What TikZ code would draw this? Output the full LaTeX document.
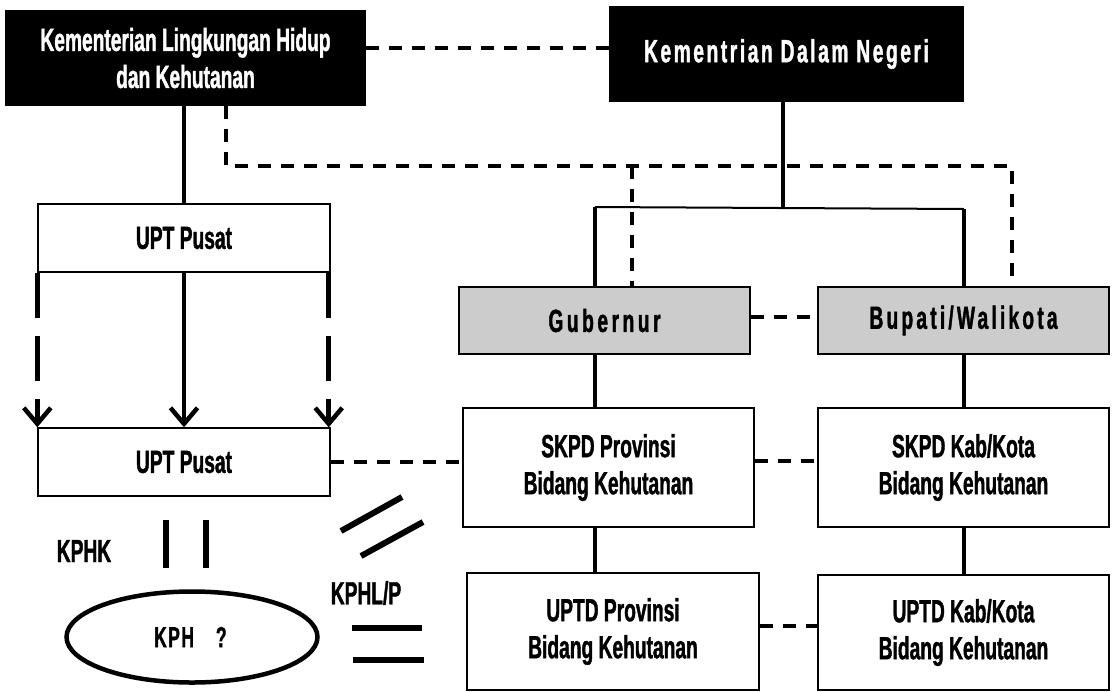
\documentclass[tikz,border=0pt]{standalone}
\usepackage{fontspec}
\setmainfont{Liberation Sans}[FakeStretch=0.6, BoldFeatures={FakeBold=1.2}]
\usetikzlibrary{arrows.meta,shapes.geometric,calc}
\definecolor{boxgrey}{HTML}{CCCCCC}
\begin{document}
\begin{tikzpicture}[x=1pt,y=-1pt,
  lbl/.style={font=\bfseries\fontsize{32}{37}\selectfont, inner sep=0pt},
  txt/.style={lbl, align=center},
  box/.style={txt, draw=black, line width=1.4pt, rectangle},
  blackbox/.style={box, fill=black, text=white},
  greybox/.style={box, fill=boxgrey},
  conn/.style={line width=3.5pt},
  thinconn/.style={line width=2pt},
  dashconn/.style={line width=3.5pt, dash pattern=on 13pt off 10pt},
  bigdash/.style={line width=5pt, dash pattern=on 45pt off 18pt, -{Straight Barb[length=16pt,width=27pt,line width=4.5pt]}},
  bigsolid/.style={line width=3.5pt, -{Straight Barb[length=16pt,width=27pt,line width=4.5pt]}},
  bar/.style={line width=6pt}
]
\useasboundingbox (0,0) rectangle (1115,691);
\fill[white] (0,0) rectangle (1115,691);

% nodes
\node[blackbox, minimum width=359pt, minimum height=94pt] (klhk) at (185.5,58) {Kementerian Lingkungan Hidup\\dan Kehutanan};
\node[blackbox, minimum width=353pt, minimum height=94pt] (kdn) at (786.5,54) {\addfontfeatures{LetterSpace=8}Kementrian Dalam Negeri};
\node[box, minimum width=292pt, minimum height=68pt] (upta) at (184,238) {UPT Pusat};
\node[box, minimum width=292pt, minimum height=68pt] (uptb) at (184,462) {UPT Pusat};
\node[greybox, minimum width=291pt, minimum height=67pt] (gub) at (604.5,320.5) {\addfontfeatures{LetterSpace=11}Gubernur};
\node[greybox, minimum width=291pt, minimum height=67pt] (bup) at (963.5,320.5) {\addfontfeatures{LetterSpace=10}Bupati/Walikota};
\node[box, minimum width=291pt, minimum height=119pt] (skpdp) at (608.5,467.5) {SKPD Provinsi\\Bidang Kehutanan};
\node[box, minimum width=291pt, minimum height=119pt] (skpdk) at (963.5,467.5) {SKPD Kab/Kota\\Bidang Kehutanan};
\node[box, minimum width=292pt, minimum height=117pt] (uptdp) at (613,631.5) {UPTD Provinsi\\Bidang Kehutanan};
\node[box, minimum width=291pt, minimum height=115pt] (uptdk) at (963.5,632.5) {UPTD Kab/Kota\\Bidang Kehutanan};
\node[draw=black, line width=4.5pt, ellipse, inner sep=0pt, minimum width=251pt, minimum height=91pt] (kph) at (192,637) {};
\node[lbl, font=\bfseries\fontsize{29}{34}\selectfont, anchor=west] (kphtxt) at ([xshift=-38pt]kph.center) {K\kern1.5pt P\kern1.5pt H\kern22pt ?};
\node[lbl] (kphk) at (84,551) {KPHK};
\node[lbl] (kphl) at (366,593) {KPHL/P};

% helper coordinates
\coordinate (bl) at (595,207);
\coordinate (br) at (964,209);
\coordinate (bm) at (783,208);
\coordinate (dL) at (226,166);
\coordinate (dG) at (632,166);
\coordinate (dR) at (1012,166);

% solid hierarchy
\draw[conn] (klhk.south -| upta.north) -- (upta.north);
\draw[conn] (kdn.south -| bm) -- (bm);
\draw[thinconn] (bl) -- (br);
\draw[conn] (bl) -- (gub.north -| bl);
\draw[conn] (br) -- (bup.north -| br);
\draw[conn] (gub.south -| bl) -- (skpdp.north -| bl);
\draw[conn] (skpdp.south -| bl) -- (uptdp.north -| bl);
\draw[conn] (bup.south -| br) -- (skpdk.north -| br);
\draw[conn] (skpdk.south -| br) -- (uptdk.north -| br);

% dashed coordination
\draw[dashconn] ([yshift=10pt]klhk.east) -- ([yshift=10pt]klhk.east -| kdn.west);
\draw[dashconn] (klhk.south -| dL) -- (dL) -- (dR) -- (bup.north -| dR);
\draw[dashconn] (dG) -- (gub.north -| dG);
\draw[dashconn] ([yshift=3.5pt]gub.east) -- ([yshift=3.5pt]gub.east -| bup.west);
\draw[dashconn] (uptb.east) -- (uptb.east -| skpdp.west);
\draw[dashconn] ([yshift=6.5pt]skpdp.east) -- ([yshift=6.5pt]skpdp.east -| skpdk.west);
\draw[dashconn] ([yshift=5.5pt]uptdp.east) -- ([yshift=5.5pt]uptdp.east -| uptdk.west);

% arrows UPT -> UPT
\draw[bigsolid] (upta.south) -- (uptb.north);
\draw[bigdash] (upta.south west) -- (uptb.north west);
\draw[bigdash] ([xshift=-2pt]upta.south east) -- ([xshift=-2pt]uptb.north east);

% bar symbols
\draw[bar] (166,520) -- (166,568);
\draw[bar] (206,520) -- (206,568);
\draw[bar] (341,531) -- (402,497);
\draw[bar] (361,556) -- (423,522);
\draw[bar] (352,628) -- (422,628);
\draw[bar] (353,660) -- (424,660);
\end{tikzpicture}
\end{document}
